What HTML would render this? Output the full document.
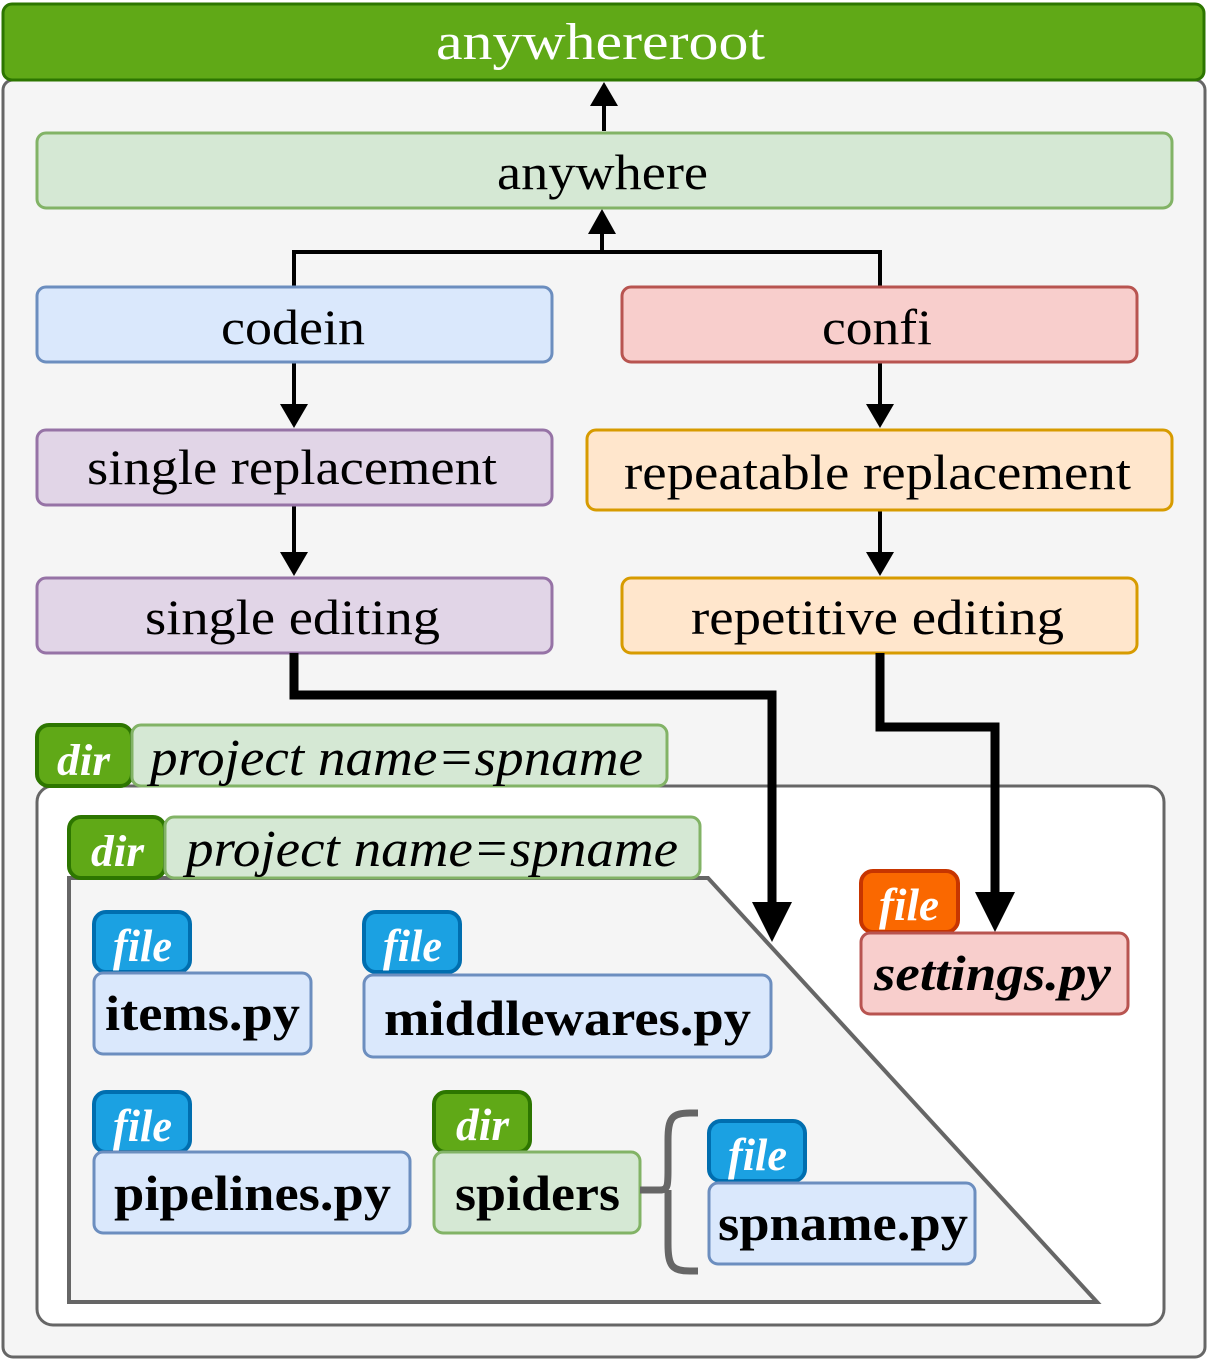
<!DOCTYPE html>
<html><head><meta charset="utf-8"><style>
html,body{margin:0;padding:0;background:#fff}
svg{display:block}
text{font-family:"Liberation Serif",serif}
</style></head><body>
<svg width="1210" height="1360" viewBox="0 0 1210 1360" xmlns="http://www.w3.org/2000/svg">
<rect x="3" y="80" width="1202" height="1277" rx="10" fill="#f5f5f5" stroke="#666" stroke-width="3"/>
<rect x="3" y="4" width="1201" height="76" rx="9" fill="#60a917" stroke="#2d7600" stroke-width="3"/>
<text x="436" y="59" font-size="52" fill="#fff" textLength="329" lengthAdjust="spacingAndGlyphs">anywhereroot</text>

<g stroke="#000" stroke-width="4" fill="none">
<line x1="604" y1="131" x2="604" y2="104"/>
<path d="M294,287 V252 H880 V287"/>
<line x1="602" y1="252" x2="602" y2="232"/>
<line x1="294" y1="362" x2="294" y2="406"/>
<line x1="880" y1="362" x2="880" y2="406"/>
<line x1="294" y1="505" x2="294" y2="554"/>
<line x1="880" y1="510" x2="880" y2="554"/>
</g>
<g fill="#000">
<path d="M590,106 L604,82 L618,106 z"/>
<path d="M588,234 L602,209 L616,234 z"/>
<path d="M280,404 L294,428 L308,404 z"/>
<path d="M866,404 L880,428 L894,404 z"/>
<path d="M280,552 L294,576 L308,552 z"/>
<path d="M866,552 L880,576 L894,552 z"/>
</g>

<g font-size="50" lengthAdjust="spacingAndGlyphs">
<rect x="37" y="133" width="1135" height="75" rx="9" fill="#d5e8d4" stroke="#82b366" stroke-width="3"/>
<text x="497" y="189" textLength="211" lengthAdjust="spacingAndGlyphs">anywhere</text>
<rect x="37" y="287" width="515" height="75" rx="9" fill="#dae8fc" stroke="#6c8ebf" stroke-width="3"/>
<text x="221" y="344" textLength="144" lengthAdjust="spacingAndGlyphs">codein</text>
<rect x="622" y="287" width="515" height="75" rx="9" fill="#f8cecc" stroke="#b85450" stroke-width="3"/>
<text x="822" y="344" textLength="110" lengthAdjust="spacingAndGlyphs">confi</text>
<rect x="37" y="430" width="515" height="75" rx="9" fill="#e1d5e7" stroke="#9673a6" stroke-width="3"/>
<text x="87" y="484" textLength="410" lengthAdjust="spacingAndGlyphs">single replacement</text>
<rect x="587" y="430" width="585" height="80" rx="9" fill="#ffe6cc" stroke="#d79b00" stroke-width="3"/>
<text x="624" y="489" textLength="507" lengthAdjust="spacingAndGlyphs">repeatable replacement</text>
<rect x="37" y="578" width="515" height="75" rx="9" fill="#e1d5e7" stroke="#9673a6" stroke-width="3"/>
<text x="145" y="634" textLength="295" lengthAdjust="spacingAndGlyphs">single editing</text>
<rect x="622" y="578" width="515" height="75" rx="9" fill="#ffe6cc" stroke="#d79b00" stroke-width="3"/>
<text x="691" y="634" textLength="373" lengthAdjust="spacingAndGlyphs">repetitive editing</text>
</g>

<rect x="37" y="786" width="1127" height="539" rx="16" fill="#fff" stroke="#666" stroke-width="3"/>
<rect x="37" y="725" width="95" height="61" rx="12" fill="#60a917" stroke="#2d7600" stroke-width="4"/>
<text x="57" y="775" font-size="44" font-style="italic" font-weight="bold" fill="#fff" textLength="53" lengthAdjust="spacingAndGlyphs">dir</text>
<rect x="132" y="725" width="535" height="61" rx="9" fill="#d5e8d4" stroke="#82b366" stroke-width="3"/>
<text x="150" y="775" font-size="52" font-style="italic" textLength="493" lengthAdjust="spacingAndGlyphs">project name=spname</text>

<polygon points="69,878 708,878 1097,1302 69,1302" fill="#f5f5f5" stroke="#666" stroke-width="4"/>
<rect x="69" y="817" width="96" height="61" rx="12" fill="#60a917" stroke="#2d7600" stroke-width="4"/>
<text x="91" y="866" font-size="44" font-style="italic" font-weight="bold" fill="#fff" textLength="53" lengthAdjust="spacingAndGlyphs">dir</text>
<rect x="165" y="817" width="535" height="61" rx="9" fill="#d5e8d4" stroke="#82b366" stroke-width="3"/>
<text x="186" y="866" font-size="52" font-style="italic" textLength="492" lengthAdjust="spacingAndGlyphs">project name=spname</text>

<g stroke="#000" stroke-width="9" fill="none">
<path d="M294,653 V695 H772 V905"/>
<path d="M880,653 V727 H995 V895"/>
</g>
<path d="M752,902 L772,942 L792,902 z" fill="#000"/>
<path d="M975,892 L995,932 L1015,892 z" fill="#000"/>

<g font-size="46" font-style="italic" font-weight="bold" fill="#fff">
<rect x="94" y="912" width="96" height="60" rx="12" fill="#1ba1e2" stroke="#006eaf" stroke-width="4"/>
<text x="113" y="961" textLength="59" lengthAdjust="spacingAndGlyphs">file</text>
<rect x="364" y="912" width="96" height="60" rx="12" fill="#1ba1e2" stroke="#006eaf" stroke-width="4"/>
<text x="383" y="961" textLength="59" lengthAdjust="spacingAndGlyphs">file</text>
<rect x="94" y="1092" width="96" height="60" rx="12" fill="#1ba1e2" stroke="#006eaf" stroke-width="4"/>
<text x="113" y="1141" textLength="59" lengthAdjust="spacingAndGlyphs">file</text>
<rect x="434" y="1092" width="96" height="60" rx="12" fill="#60a917" stroke="#2d7600" stroke-width="4"/>
<text x="456" y="1140" textLength="53" lengthAdjust="spacingAndGlyphs">dir</text>
<rect x="709" y="1121" width="96" height="60" rx="12" fill="#1ba1e2" stroke="#006eaf" stroke-width="4"/>
<text x="728" y="1170" textLength="59" lengthAdjust="spacingAndGlyphs">file</text>
<rect x="861" y="871" width="97" height="61" rx="12" fill="#fa6800" stroke="#c73500" stroke-width="4"/>
<text x="879" y="920" textLength="60" lengthAdjust="spacingAndGlyphs">file</text>
</g>

<g font-size="50" font-weight="bold">
<rect x="94" y="973" width="217" height="81" rx="9" fill="#dae8fc" stroke="#6c8ebf" stroke-width="3"/>
<text x="105" y="1030" textLength="195" lengthAdjust="spacingAndGlyphs">items.py</text>
<rect x="364" y="975" width="407" height="82" rx="9" fill="#dae8fc" stroke="#6c8ebf" stroke-width="3"/>
<text x="384" y="1035" textLength="367" lengthAdjust="spacingAndGlyphs">middlewares.py</text>
<rect x="94" y="1152" width="316" height="81" rx="9" fill="#dae8fc" stroke="#6c8ebf" stroke-width="3"/>
<text x="114" y="1210" textLength="277" lengthAdjust="spacingAndGlyphs">pipelines.py</text>
<rect x="434" y="1152" width="206" height="81" rx="9" fill="#d5e8d4" stroke="#82b366" stroke-width="3"/>
<text x="455" y="1210" textLength="165" lengthAdjust="spacingAndGlyphs">spiders</text>
<rect x="709" y="1183" width="266" height="81" rx="9" fill="#dae8fc" stroke="#6c8ebf" stroke-width="3"/>
<text x="718" y="1240" textLength="250" lengthAdjust="spacingAndGlyphs">spname.py</text>
<rect x="861" y="933" width="267" height="81" rx="9" fill="#f8cecc" stroke="#b85450" stroke-width="3"/>
<text x="874" y="990" font-style="italic" textLength="237" lengthAdjust="spacingAndGlyphs">settings.py</text>
</g>
<path d="M640,1190 H660 C668,1190 668,1185 668,1170 V1140 C668,1118 672,1113 690,1113 H698 M668,1190 V1244 C668,1266 672,1271 690,1271 H698" fill="none" stroke="#666" stroke-width="7"/>
</svg>
</body></html>
